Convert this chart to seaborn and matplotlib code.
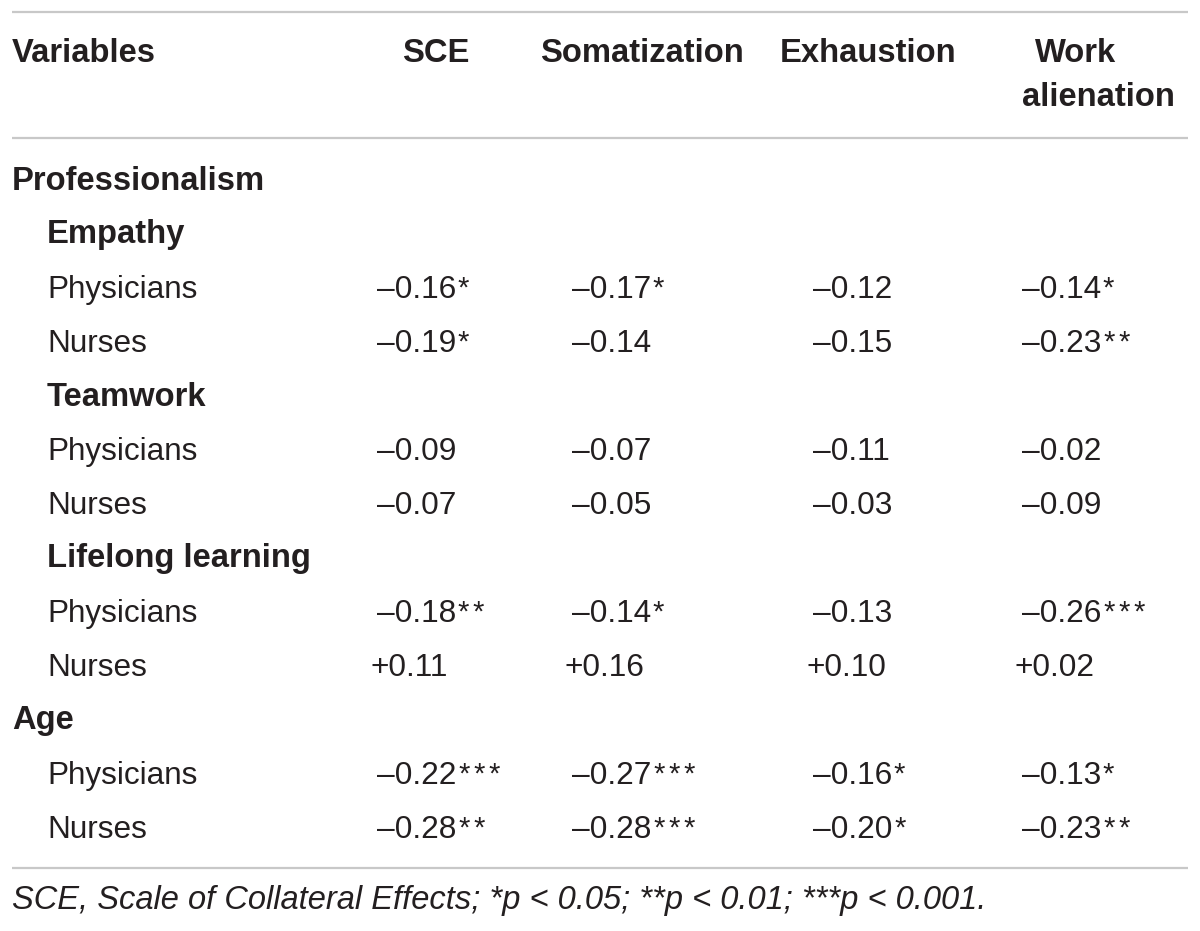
import matplotlib.pyplot as plt
import numpy as np
import seaborn as sns

# Table content
col_headers = ["SCE", "Somatization", "Exhaustion", "Work\nalienation"]
row_labels = ["Professionalism", "Empathy", "Physicians", "Nurses",
              "Teamwork", "Physicians", "Nurses",
              "Lifelong learning", "Physicians", "Nurses",
              "Age", "Physicians", "Nurses"]
# 0 = top section, 1 = sub section, 2 = group row
row_level = [0, 1, 2, 2, 1, 2, 2, 1, 2, 2, 0, 2, 2]

nan = np.nan
sce = [nan, nan, -0.16, -0.19, nan, -0.09, -0.07, nan, -0.18, 0.11, nan, -0.22, -0.28]
sce_stars = [0, 0, 1, 1, 0, 0, 0, 0, 2, 0, 0, 3, 2]
somatization = [nan, nan, -0.17, -0.14, nan, -0.07, -0.05, nan, -0.14, 0.16, nan, -0.27, -0.28]
somatization_stars = [0, 0, 1, 0, 0, 0, 0, 0, 1, 0, 0, 3, 3]
exhaustion = [nan, nan, -0.12, -0.15, nan, -0.11, -0.03, nan, -0.13, 0.10, nan, -0.16, -0.20]
exhaustion_stars = [0, 0, 0, 0, 0, 0, 0, 0, 0, 0, 0, 1, 1]
work_alienation = [nan, nan, -0.14, -0.23, nan, -0.02, -0.09, nan, -0.26, 0.02, nan, -0.13, -0.23]
work_alienation_stars = [0, 0, 1, 2, 0, 0, 0, 0, 3, 0, 0, 1, 2]

footnote = "SCE, Scale of Collateral Effects; *p < 0.05; **p < 0.01; ***p < 0.001."

columns = [(sce, sce_stars), (somatization, somatization_stars),
           (exhaustion, exhaustion_stars), (work_alienation, work_alienation_stars)]


def fmt(v):
    sign = "\u2013" if v < 0 else "+"
    return f"{sign}{abs(v):.2f}"


sns.set_style("white")
plt.rcParams['font.family'] = ['Liberation Sans', 'DejaVu Sans']

W, H = 1200, 931
fig = plt.figure(figsize=(W / 100, H / 100), dpi=100)
ax = fig.add_axes([0, 0, 1, 1])
ax.set_xlim(0, W)
ax.set_ylim(H, 0)
ax.axis('off')

txt = '#231f20'
line_c = '#c8c8c8'
fs_reg = 22.7
fs_bold = 23.6
fs_val = 22.8
fs_star = 21
fs_note = 23.5

# rules
for y in [12, 138, 868]:
    ax.plot([12, 1188], [y, y], color=line_c, lw=1.6, solid_capstyle='butt')

# header
ax.text(12, 53, "Variables", fontsize=fs_bold, fontweight='bold', color=txt, va='center', ha='left')
header_x = [436, 642, 868]
for x, h in zip(header_x, col_headers[:3]):
    ax.text(x, 53, h, fontsize=fs_bold, fontweight='bold', color=txt, va='center', ha='center')
w1, w2 = col_headers[3].split("\n")
ax.text(1035, 53, w1, fontsize=fs_bold, fontweight='bold', color=txt, va='center', ha='left')
ax.text(1022, 98, w2, fontsize=fs_bold, fontweight='bold', color=txt, va='center', ha='left')

# body
row_y0, row_step = 181, 54
value_x = [377, 572, 813, 1022]
for i, (label, lev) in enumerate(zip(row_labels, row_level)):
    y = row_y0 + i * row_step
    lx = 12 if lev == 0 else 47
    if lev < 2:
        ax.text(lx, y, label, fontsize=fs_bold, fontweight='bold', color=txt, va='center', ha='left')
    else:
        ax.text(lx, y + 1, label, fontsize=fs_reg, color=txt, va='center', ha='left')
    for x, (vals, stars) in zip(value_x, columns):
        v = vals[i]
        if np.isnan(v):
            continue
        xx = x - 7 if v >= 0 else x
        t = ax.text(xx, y + 1, fmt(v), fontsize=fs_val, color=txt, va='center', ha='left')
        # significance stars, small and raised, slightly spaced
        for k in range(stars[i]):
            ax.annotate("*", xy=(1, 1), xycoords=t,
                        xytext=(1.2 + 10.8 * k, 0), textcoords='offset points',
                        fontsize=fs_star, color=txt, va='top', ha='left')

ax.text(12, 901, footnote, fontsize=fs_note, style='italic', color=txt, va='center', ha='left')

plt.savefig('out.png', dpi=100)
